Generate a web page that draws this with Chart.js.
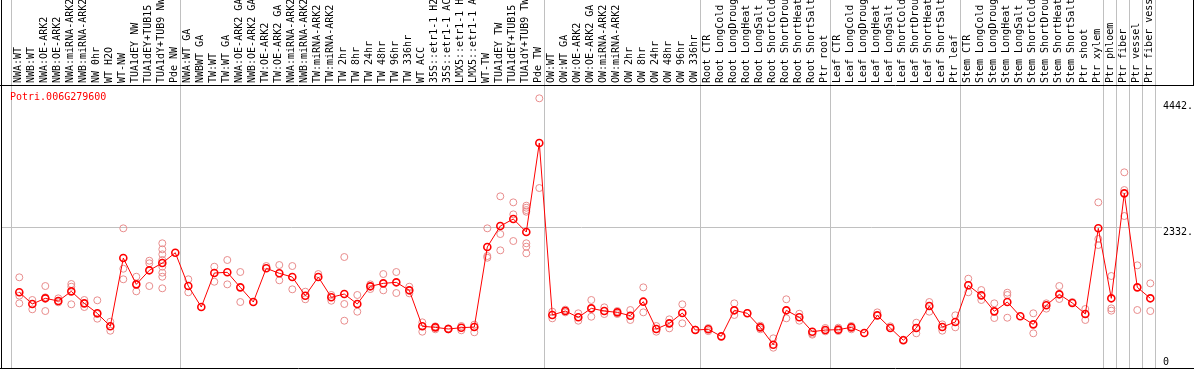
<!DOCTYPE html>
<html>
<head>
<meta charset="utf-8">
<script src="https://cdn.jsdelivr.net/npm/chart.js@4"></script>
<style>
  html, body { margin: 0; padding: 0; background: #fff; }
  canvas { display: block; }
</style>
</head>
<body>
<canvas id="expr" width="1194" height="370"></canvas>
<script>
const geneName = "Potri.006G279600";

const labels = [
  "NWA:WT", "NWB:WT", "NWA:OE-ARK2", "NWB:OE-ARK2", "NWA:miRNA-ARK2", "NWB:miRNA-ARK2",
  "NW 0hr", "WT H2O", "WT-NW", "TUA1dEY NW", "TUA1dEY+TUB15", "TUA1dY+TUB9 NW", "Pde NW",
  "NWA:WT GA", "NWBWT GA", "TW:WT", "TW:WT GA", "NWA:OE-ARK2 GA", "NWB:OE-ARK2 GA",
  "TW:OE-ARK2", "TW:OE-ARK2 GA", "NWA:miRNA-ARK2", "NWB:miRNA-ARK2", "TW:miRNA-ARK2",
  "TW:miRNA-ARK2", "TW 2hr", "TW 8hr", "TW 24hr", "TW 48hr", "TW 96hr", "TW 336hr",
  "WT ACC", "35S::etr1-1 H2", "35S::etr1-1 AC", "LMX5::etr1-1 H", "LMX5::etr1-1 A",
  "WT-TW", "TUA1dEY TW", "TUA1dEY+TUB15", "TUA1dY+TUB9 TW", "Pde TW",
  "OW:WT", "OW:WT GA", "OW:OE-ARK2", "OW:OE-ARK2 GA", "OW:miRNA-ARK2", "OW:miRNA-ARK2",
  "OW 2hr", "OW 8hr", "OW 24hr", "OW 48hr", "OW 96hr", "OW 336hr",
  "Root CTR", "Root LongCold", "Root LongDroug", "Root LongHeat", "Root LongSalt",
  "Root ShortCold", "Root ShortDrou", "Root ShortHeat", "Root ShortSalt", "Ptr root",
  "Leaf CTR", "Leaf LongCold", "Leaf LongDroug", "Leaf LongHeat", "Leaf LongSalt",
  "Leaf ShortCold", "Leaf ShortDrou", "Leaf ShortHeat", "Leaf ShortSalt", "Ptr leaf",
  "Stem CTR", "Stem LongCold", "Stem LongDroug", "Stem LongHeat", "Stem LongSalt",
  "Stem ShortCold", "Stem ShortDrou", "Stem ShortHeat", "Stem ShortSalt", "Ptr shoot",
  "Ptr xylem", "Ptr phloem", "Ptr fiber", "Ptr vessel", "Ptr fiber vess"
];

// mean expression per sample
const means = [
  1250, 1054, 1149, 1104, 1266, 1065, 898, 680, 1824, 1383, 1618, 1740, 1913,
  1355, 1003, 1573, 1585, 1333, 1087, 1652, 1568, 1506,
  1193, 1506, 1166, 1221, 1054, 1350, 1400, 1417, 1283,
  680, 663, 635, 657, 668, 2009, 2360, 2478, 2260, 3751,
  870, 936, 831, 981,
  936, 914, 858, 1093, 635, 730, 903, 618,
  630, 512, 948, 898, 663, 372, 948, 831, 590, 618,
  624, 663, 568, 864, 652, 446, 652, 1020, 668, 752,
  1367, 1199, 931, 1087, 848, 713, 1032, 1216, 1071, 886,
  2322, 1149, 2908, 1333, 1149
];

// individual replicates per sample
const reps = [
  [1501, 1193, 1065], [1121, 965], [1355, 1166, 936], [1149, 1082], [1389, 1344, 1049],
  [1121, 1003], [1116, 886, 808], [757, 606], [2322, 1645, 1468], [1511, 1266],
  [1779, 1736, 1355], [2071, 1970, 1886, 1791, 1679, 1578, 1511, 1317], [],
  [1468, 1250], [], [1679, 1427], [1791, 1383], [1590, 1087], [], [1690], [1707, 1451],
  [1690, 1300], [1260, 1133], [1556], [1205, 1109], [1841, 1054, 774], [1205, 925],
  [1383, 1305], [1556, 1283], [1590, 1238], [1344, 1233],
  [747, 590], [680, 630], [646, 630], [685, 613], [708, 580],
  [2322, 1858, 1829], [2858, 2226, 1953], [2757, 2556, 2109],
  [2701, 2667, 2628, 2600, 2071, 2014, 1903], [4500, 2997],
  [925, 814], [959, 914], [898, 774], [1121, 841],
  [998, 886], [937, 886], [953, 786], [1333, 914], [685, 590], [797, 646], [1049, 730], [624],
  [652, 600], [], [1065, 870], [903], [691, 630], [479, 322], [1133, 814], [891, 774],
  [557, 540], [652, 596],
  [657, 601], [686, 630], [], [914], [680], [457], [741, 563], [1087, 925], [713, 607],
  [864, 663],
  [1478, 1250], [1288, 1121], [1065, 819], [1243, 1205, 824], [], [898, 563], [1065, 976],
  [1355, 1138], [1087], [970, 786],
  [2757, 2143, 2042], [1523, 981, 942], [3260, 2963, 2528], [1702, 953], [1400, 936]
];

// last sample index of each group (vertical separators)
const groupEnds = [-1, 12, 40, 52, 62, 72, 83, 84, 85, 86, 87];

const yTicks = [0, 2332, 4442];
const yTickText = ["0", "2332.", "4442."];

const monoFont = "10px 'DejaVu Sans Mono', monospace";

const meanPts = means.map((v, i) => ({ x: i, y: v }));
const repPts = [];
reps.forEach((arr, i) => arr.forEach(v => repPts.push({ x: i, y: v })));

const frame = {
  id: "frame",
  beforeDatasetsDraw(chart) {
    const ctx = chart.ctx;
    const xs = chart.scales.x;
    const bottom = chart.chartArea.bottom;
    ctx.save();
    ctx.strokeStyle = "#c0c0c0";
    ctx.lineWidth = 1;
    groupEnds.forEach(g => {
      const px = Math.round(xs.getPixelForValue(g + 5 / 13)) + 0.5;
      ctx.beginPath();
      ctx.moveTo(px, 0);
      ctx.lineTo(px, bottom);
      ctx.stroke();
    });
    ctx.restore();
  },
  afterDraw(chart) {
    const ctx = chart.ctx;
    const xs = chart.scales.x, ys = chart.scales.y;
    const { top, bottom } = chart.chartArea;
    const W = chart.width;
    ctx.save();
    // black frame lines
    ctx.strokeStyle = "#000";
    ctx.lineWidth = 1;
    ctx.beginPath();
    ctx.moveTo(0, top + 0.5); ctx.lineTo(W, top + 0.5);
    ctx.moveTo(0, bottom - 0.5); ctx.lineTo(W, bottom - 0.5);
    ctx.moveTo(1.5, 0); ctx.lineTo(1.5, bottom);
    ctx.moveTo(W - 0.5, 0); ctx.lineTo(W - 0.5, top);
    ctx.stroke();

    // sample names, rotated
    ctx.font = monoFont;
    ctx.fillStyle = "#000";
    ctx.textAlign = "left";
    ctx.textBaseline = "middle";
    labels.forEach((lab, i) => {
      const px = xs.getPixelForValue(i);
      ctx.save();
      ctx.translate(px - 0.5, top - 2);
      ctx.rotate(-Math.PI / 2);
      ctx.fillText(lab, 0, 0);
      ctx.restore();
    });

    // y labels on the right
    ctx.textBaseline = "middle";
    yTicks.forEach((v, k) => {
      const py = ys.getPixelForValue(v);
      ctx.fillText(yTickText[k], 1163, v === 0 ? py - 5 : py + 5);
    });

    // gene title
    ctx.fillStyle = "#ff0000";
    ctx.fillText(geneName, 10, top + 12);
    ctx.restore();
  }
};

new Chart(document.getElementById("expr").getContext("2d"), {
  type: "scatter",
  data: {
    datasets: [
      {
        label: "mean",
        data: meanPts,
        showLine: true,
        borderColor: "#ff0000",
        borderWidth: 1,
        pointRadius: 3.5,
        pointBorderWidth: 1.6,
        pointBorderColor: "#ff0000",
        pointBackgroundColor: "rgba(0,0,0,0)",
        order: 0
      },
      {
        label: "replicates",
        data: repPts,
        showLine: false,
        pointRadius: 3.5,
        pointBorderWidth: 1,
        pointBorderColor: "#e88c8c",
        pointBackgroundColor: "rgba(0,0,0,0)",
        order: 1
      }
    ]
  },
  options: {
    responsive: false,
    animation: false,
    layout: { autoPadding: false, padding: { left: 1, right: 32, top: 85, bottom: 1 } },
    plugins: { legend: { display: false }, tooltip: { enabled: false } },
    scales: {
      x: {
        type: "linear",
        display: false,
        min: -1.4077,
        max: 87.9
      },
      y: {
        type: "linear",
        position: "right",
        min: -35,
        max: 4723,
        afterBuildTicks: s => { s.ticks = yTicks.map(v => ({ value: v })); },
        afterFit: s => { s.width = 0; },
        ticks: { display: false },
        border: { display: false },
        grid: {
          drawTicks: false,
          color: c => (c.tick && c.tick.value === 2332 ? "#c0c0c0" : "rgba(0,0,0,0)")
        }
      }
    }
  },
  plugins: [frame]
});
</script>
</body>
</html>
